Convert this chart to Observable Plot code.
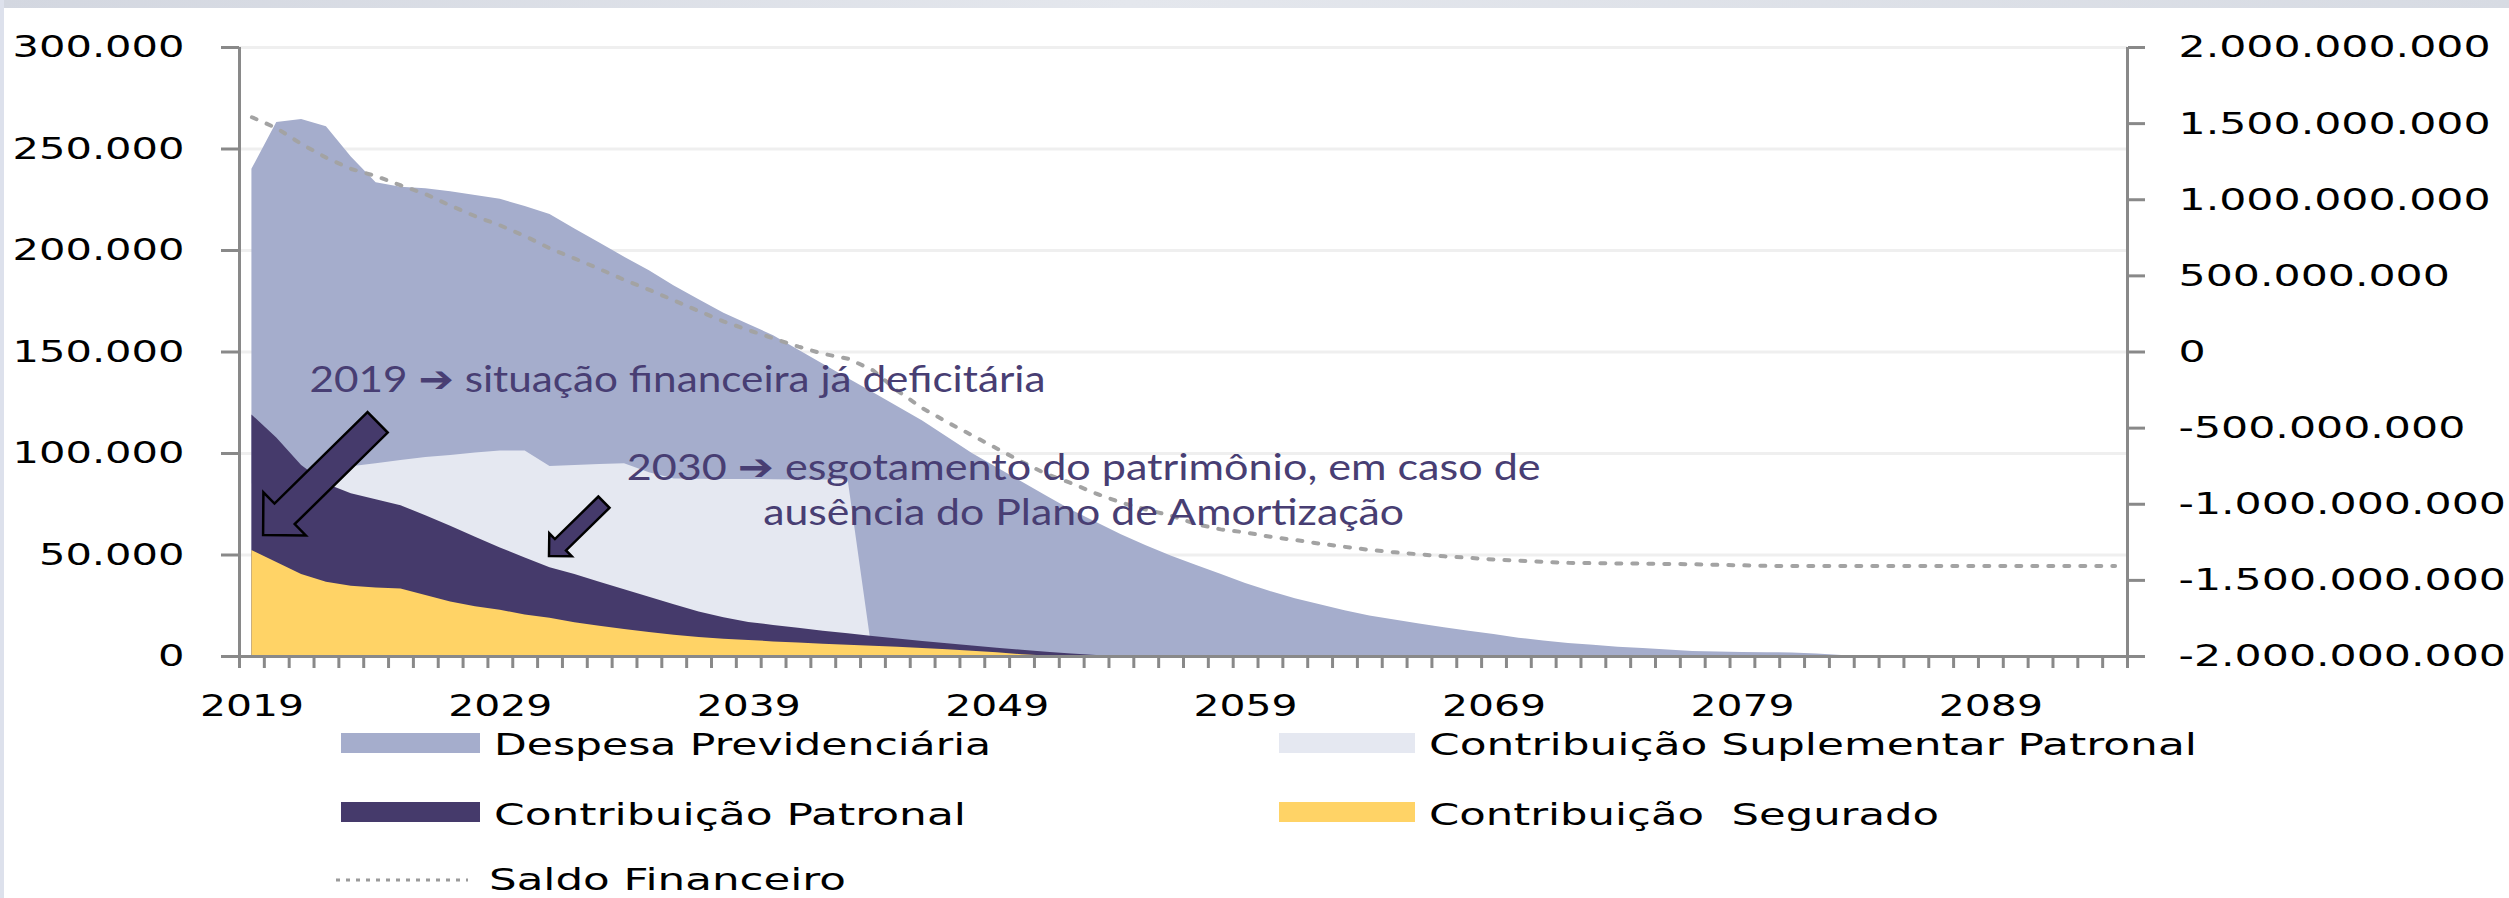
<!DOCTYPE html>
<html>
<head>
<meta charset="utf-8">
<script src="https://cdn.jsdelivr.net/npm/d3@7"></script>
<script src="https://cdn.jsdelivr.net/npm/@observablehq/plot@0.6"></script>
<style>
  html, body { margin: 0; padding: 0; background: #fff; }
  #page { position: relative; width: 2509px; height: 898px; overflow: hidden; background: #fff; }
  #chart { position: absolute; left: 0; top: 0; width: 2509px; }
  #chart svg { max-width: none; }
  #legend { position: absolute; left: 0; top: 725px; width: 2509px; }
  #topband { position: absolute; left: 0; top: 0; width: 2509px; height: 8px;
             background: linear-gradient(90deg, #d3d7e0, #e4e7ed 45%, #d7dbe3); }
  #leftband { position: absolute; left: 0; top: 0; width: 4px; height: 898px; background: #dde1ec; }
</style>
</head>
<body>
<div id="page">
  <div id="chart"></div>
  <div id="legend"></div>
  <div id="topband"></div>
  <div id="leftband"></div>
</div>
<script>
// ---------------- data ----------------
const years = d3.range(2019, 2095); // 2019 … 2094 (76 categories)

const despesaPrevidenciaria = [
  240000, 263000, 264500, 261000, 246000, 233400, 231200, 230400, 228900, 227100,
  225200, 221700, 217700, 210600, 203700, 196700, 190000, 182500, 175700, 169100,
  163600, 158000, 151000, 144000, 137000, 130000, 123000, 116000, 108000, 100000,
  93000, 86000, 79000, 72000, 66000, 60000, 54500, 49500, 45000, 40500,
  36000, 32000, 28500, 25500, 22500, 20000, 18000, 16000, 14200, 12500,
  10800, 9000, 7600, 6400, 5500, 4600, 3900, 3200, 2500, 2200,
  2000, 1900, 1700, 1200, 500, 0, 0, 0, 0, 0,
  0, 0, 0, 0, 0, 0
];

const contribSuplementarPatronal = [
  85000, 88000, 90000, 92000, 93500, 95000, 96500, 98000, 99000, 100200,
  101200, 101200, 93600, 94100, 94600, 94900, 90500, 87500, 87300, 87200,
  87200, 87100, 87000, 87000, 87000, 0, 0, 0, 0, 0,
  0, 0, 0, 0, 0, 0, 0, 0, 0, 0,
  0, 0, 0, 0, 0, 0, 0, 0, 0, 0,
  0, 0, 0, 0, 0, 0, 0, 0, 0, 0,
  0, 0, 0, 0, 0, 0, 0, 0, 0, 0,
  0, 0, 0, 0, 0, 0
];

const contribPatronal = [
  119000, 107600, 94100, 85000, 80200, 77200, 74300, 69300, 64200, 58800,
  53500, 48500, 43700, 40400, 36600, 32900, 29200, 25500, 21900, 19100,
  16800, 15300, 13900, 12500, 11200, 9800, 8600, 7400, 6300, 5200,
  4100, 3100, 2100, 1200, 500, 0, 0, 0, 0, 0,
  0, 0, 0, 0, 0, 0, 0, 0, 0, 0,
  0, 0, 0, 0, 0, 0, 0, 0, 0, 0,
  0, 0, 0, 0, 0, 0, 0, 0, 0, 0,
  0, 0, 0, 0, 0, 0
];

const contribSegurado = [
  52200, 46300, 40400, 36600, 34600, 33800, 33200, 30000, 26900, 24500,
  22800, 20500, 18900, 16600, 14900, 13300, 11800, 10500, 9400, 8500,
  7900, 7200, 6600, 6000, 5500, 5000, 4500, 3900, 3300, 2600,
  1800, 900, 300, 0, 0, 0, 0, 0, 0, 0,
  0, 0, 0, 0, 0, 0, 0, 0, 0, 0,
  0, 0, 0, 0, 0, 0, 0, 0, 0, 0,
  0, 0, 0, 0, 0, 0, 0, 0, 0, 0,
  0, 0, 0, 0, 0, 0
];

// Saldo Financeiro (right axis)
const saldoFinanceiro = [
  1542e6, 1470e6, 1365e6, 1275e6, 1202e6, 1155e6, 1094e6, 1036e6, 961e6, 891e6,
  831e6, 761e6, 680e6, 613e6, 545e6, 473e6, 408e6, 338e6, 268e6, 200e6,
  143e6, 89e6, 35e6, -12e6, -44e6, -120e6, -257e6, -370e6, -462e6, -548e6,
  -635e6, -722e6, -803e6, -863e6, -931e6, -990e6, -1035e6, -1075e6, -1130e6, -1165e6,
  -1185e6, -1214e6, -1235e6, -1259e6, -1280e6, -1300e6, -1316e6, -1329e6, -1342e6, -1352e6,
  -1363e6, -1371e6, -1378e6, -1385e6, -1387e6, -1389e6, -1390e6, -1392e6, -1394e6, -1398e6,
  -1401e6, -1405e6, -1406e6, -1406e6, -1406e6, -1406e6, -1406e6, -1406e6, -1406e6, -1406e6,
  -1406e6, -1406e6, -1406e6, -1406e6, -1406e6, -1406e6
];

const seriesNames = ["Despesa Previdenciária", "Contribuição Suplementar Patronal",
                     "Contribuição Patronal", "Contribuição  Segurado", "Saldo Financeiro"];

const leftTicks  = [0, 50000, 100000, 150000, 200000, 250000, 300000];
const rightTicks = [-2e9, -1.5e9, -1e9, -5e8, 0, 5e8, 1e9, 1.5e9, 2e9];
const yearLabels = [2019, 2029, 2039, 2049, 2059, 2069, 2079, 2089];

const annotations = [
  {text: "2019 ➔ situação financeira já deficitária", year: 2036.13, value: 130500},
  {text: "2030 ➔ esgotamento do patrimônio, em caso de", year: 2052.48, value: 86700},
  {text: "ausência do Plano de Amortização", year: 2052.48, value: 65000}
];
const arrows = [
  {tailYear: 2024.08, tailValue: 115100, tipYear: 2019.47, tipValue: 59600},
  {tailYear: 2033.19, tailValue: 75800, tipYear: 2030.98, tipValue: 49300}
];

// ---------------- styles ----------------
const COLORS = {
  despesa: "#a5adcc", suplementar: "#e5e8f1", patronal: "#453a6b",
  segurado: "#ffd366", saldo: "#a3a3a3", axis: "#898989", grid: "#efefef",
  annot: "#483e73"
};
const arrowStyle = [{shaft: 28.8, head: 30.2}, {shaft: 15.8, head: 16}];
const annotWidths = [736, 914, 641];
const STRETCH = {left: 1.342, right: 1.376, x: 1.363};

// ---------------- helpers ----------------
const br = d3.formatLocale({decimal: ",", thousands: ".", grouping: [3], currency: ["R$", ""], minus: "-"});
const fmt = br.format(",d");
const RMIN = -2e9, RMAX = 2e9, LMAX = 300000;
const toLeft = v => (v - RMIN) / (RMAX - RMIN) * LMAX;

const data = years.map((year, i) => ({
  year,
  despesa: despesaPrevidenciaria[i],
  suplementar: contribSuplementarPatronal[i],
  patronal: contribPatronal[i],
  segurado: contribSegurado[i],
  saldo: saldoFinanceiro[i]
}));
const bandEdges = years.map(y => y - 0.5).concat([years[years.length - 1] + 0.5]);
const xMin = bandEdges[0], xMax = bandEdges[bandEdges.length - 1];

function arrowMark(index, scales) {
  const g = d3.create("svg:g").attr("aria-label", "arrows");
  arrows.forEach((a, k) => {
    const {shaft, head} = arrowStyle[k];
    const x0 = scales.x(a.tailYear), y0 = scales.y(a.tailValue);
    const x1 = scales.x(a.tipYear), y1 = scales.y(a.tipValue);
    const len = Math.hypot(x1 - x0, y1 - y0);
    const dx = (x1 - x0) / len, dy = (y1 - y0) / len;
    const nx = -dy, ny = dx;
    const bx = x1 - head * dx, by = y1 - head * dy;
    const w = shaft / 2;
    const pts = [
      [x0 + nx * w, y0 + ny * w], [bx + nx * w, by + ny * w], [bx + nx * head, by + ny * head],
      [x1, y1],
      [bx - nx * head, by - ny * head], [bx - nx * w, by - ny * w], [x0 - nx * w, y0 - ny * w]
    ];
    g.append("path")
      .attr("d", "M" + pts.map(p => p[0].toFixed(1) + "," + p[1].toFixed(1)).join("L") + "Z")
      .attr("fill", COLORS.patronal).attr("stroke", "#000").attr("stroke-width", 2.5)
      .attr("stroke-linejoin", "miter");
  });
  return g.node();
}

const axisFont = "DejaVu Sans, sans-serif";
const plot = Plot.plot({
  width: 2509, height: 725,
  marginLeft: 239, marginRight: 382, marginTop: 47, marginBottom: 69,
  x: {domain: [xMin, xMax], label: null},
  y: {domain: [0, LMAX], label: null},
  style: {background: "transparent", overflow: "visible"},
  marks: [
    Plot.ruleY(leftTicks.slice(1), {stroke: COLORS.grid, strokeWidth: 3}),
    Plot.areaY(data, {x: "year", y: "despesa", fill: COLORS.despesa}),
    Plot.areaY(data, {x: "year", y: "suplementar", fill: COLORS.suplementar}),
    Plot.areaY(data, {x: "year", y: "patronal", fill: COLORS.patronal}),
    Plot.areaY(data, {x: "year", y: "segurado", fill: COLORS.segurado}),
    Plot.line(data, {x: "year", y: d => toLeft(d.saldo), stroke: COLORS.saldo, strokeWidth: 4,
                     strokeDasharray: "5 11"}),
    Plot.ruleX([xMin], {stroke: COLORS.axis, strokeWidth: 3}),
    Plot.ruleX([xMax], {stroke: COLORS.axis, strokeWidth: 3}),
    Plot.ruleY([0], {stroke: COLORS.axis, strokeWidth: 3}),
    Plot.axisY(leftTicks, {anchor: "left", tickSize: 18, tickPadding: 37, tickFormat: fmt,
                           stroke: COLORS.axis, strokeWidth: 3, fill: "#000", fontSize: 31,
                           fontFamily: axisFont, label: null}),
    // secondary (right) axis: tick marks + labels aligned on their left edge
    Plot.axisY(rightTicks.map(toLeft), {anchor: "right", tickSize: 17, tickFormat: () => "",
                           stroke: COLORS.axis, strokeWidth: 3, label: null}),
    Plot.text(rightTicks, {x: xMax, y: d => toLeft(d), text: d => fmt(d), dx: 51, textAnchor: "start",
                           lineAnchor: "middle", fontSize: 31, fontFamily: axisFont, fill: "#000"}),
    Plot.axisX(bandEdges, {anchor: "bottom", tickSize: 12, tickFormat: () => "",
                           stroke: COLORS.axis, strokeWidth: 3, label: null}),
    Plot.axisX(yearLabels, {anchor: "bottom", tickSize: 0, tickPadding: 38, tickFormat: d => String(d),
                           fill: "#000", fontSize: 30, fontFamily: axisFont, label: null}),
    Plot.text(annotations, {x: "year", y: "value", text: "text", textAnchor: "middle", lineAnchor: "bottom",
                            fontSize: 37, fontFamily: "Lato, 'Open Sans', sans-serif", fill: COLORS.annot}),
    arrowMark
  ]
});
document.getElementById("chart").append(plot);

// the reference uses wide lettering: stretch texts horizontally
function fit(node, target) {
  if (!(target > 0)) return;
  node.setAttribute("textLength", target.toFixed(1));
  node.setAttribute("lengthAdjust", "spacingAndGlyphs");
}
function boldArrow(node) {
  const s = node.textContent, k = s.indexOf("➔");
  if (k < 0) return;
  const NS = "http://www.w3.org/2000/svg";
  node.textContent = "";
  [s.slice(0, k), "➔", s.slice(k + 1)].forEach((p, j) => {
    const ts = document.createElementNS(NS, "tspan");
    ts.textContent = p;
    if (j === 1) { ts.setAttribute("font-family", "DejaVu Sans"); ts.setAttribute("font-weight", "bold"); }
    node.appendChild(ts);
  });
}
const rightSet = new Set(rightTicks.map(d => fmt(d)));
const leftSet = new Set(leftTicks.map(d => fmt(d)));
const xSet = new Set(yearLabels.map(String));
const annSet = annotations.map(a => a.text);
Array.from(plot.querySelectorAll("text")).forEach(n => {
  try {
    const s = (n.textContent || "").trim();
    if (!s) return;
    const r = n.getBoundingClientRect();
    const w = n.getComputedTextLength();
    const ai = annSet.indexOf(s);
    if (ai >= 0) { boldArrow(n); fit(n, annotWidths[ai]); return; }
    if (xSet.has(s) && r.top > 670) { n.style.fontFamily = axisFont; fit(n, w * STRETCH.x); return; }
    if (leftSet.has(s) && r.left < 300) { n.style.fontFamily = axisFont; fit(n, w * STRETCH.left); return; }
    if (rightSet.has(s) && r.left > 2000) { n.style.fontFamily = axisFont; fit(n, w * STRETCH.right); return; }
  } catch (e) { /* ignore */ }
});

// ---------------- legend ----------------
const legendLayout = [
  {kind: "rect", color: COLORS.despesa,     sx: 341,  sy: 8,  sw: 139, tx: 494,  base: 30,  tw: 497},
  {kind: "rect", color: COLORS.suplementar, sx: 1279, sy: 8,  sw: 136, tx: 1429, base: 30,  tw: 768},
  {kind: "rect", color: COLORS.patronal,    sx: 341,  sy: 77, sw: 139, tx: 494,  base: 100, tw: 472},
  {kind: "rect", color: COLORS.segurado,    sx: 1279, sy: 77, sw: 136, tx: 1429, base: 100, tw: 510},
  {kind: "line", color: COLORS.saldo,       sx: 336,  sy: 155, sw: 132, tx: 489, base: 165, tw: 357}
];
const lg = d3.select("#legend").append("svg").attr("width", 2509).attr("height", 173)
  .style("display", "block").style("overflow", "visible");
legendLayout.forEach((L, i) => {
  if (L.kind === "rect") {
    lg.append("rect").attr("x", L.sx).attr("y", L.sy).attr("width", L.sw).attr("height", 20).attr("fill", L.color);
  } else {
    lg.append("line").attr("x1", L.sx).attr("x2", L.sx + L.sw).attr("y1", L.sy).attr("y2", L.sy)
      .attr("stroke", "#9a9a9a").attr("stroke-width", 3).attr("stroke-dasharray", "4 6");
  }
  const t = lg.append("text").attr("x", L.tx).attr("y", L.base)
    .attr("font-family", axisFont).attr("font-size", 30).attr("fill", "#000")
    .style("white-space", "pre").text(seriesNames[i]);
  fit(t.node(), L.tw);
});
</script>
</body>
</html>
